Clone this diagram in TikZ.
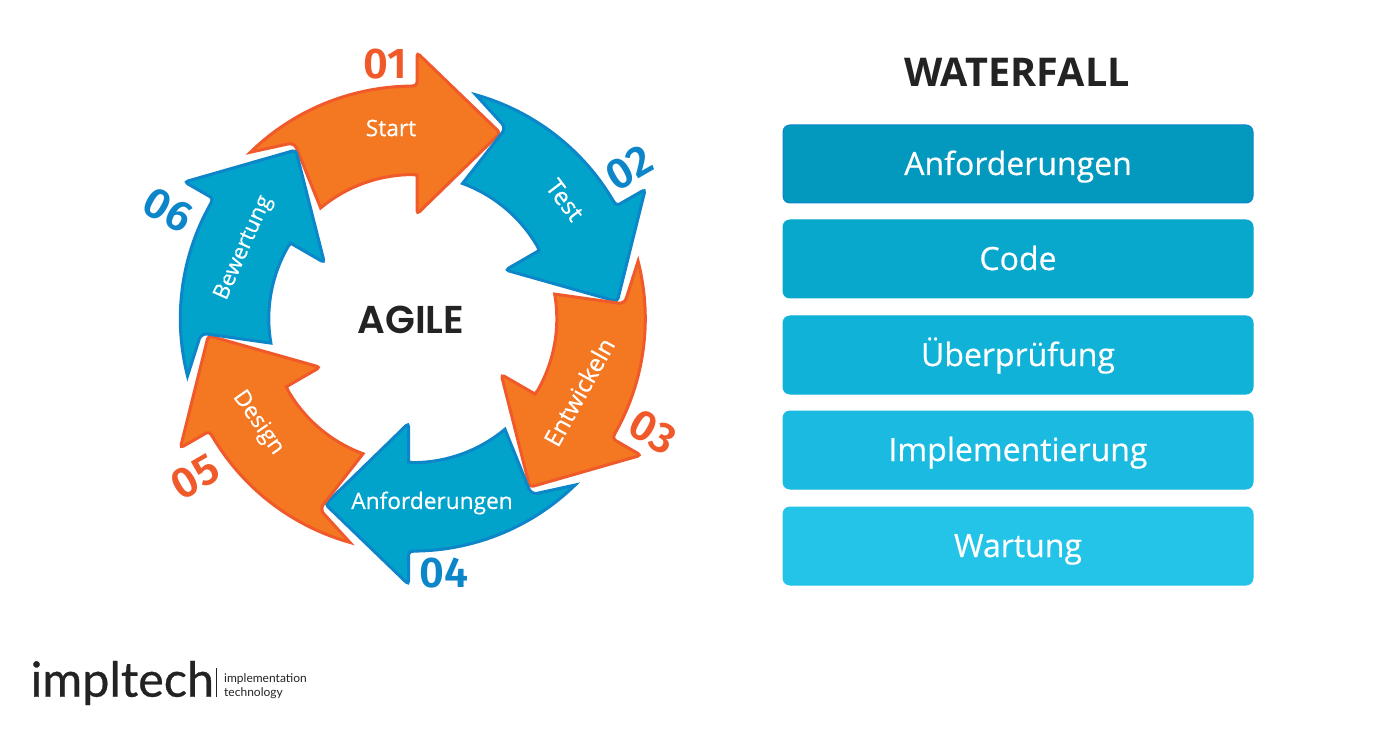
\documentclass[tikz,border=0pt]{standalone}
\usepackage{fontspec}
\setmainfont{Open Sans}
\newfontfamily\lblfont[FakeBold=0.5]{Open Sans}
\newfontfamily\numfont{Fira Sans SemiBold}
\newfontfamily\polyfont{Poppins SemiBold}
\newfontfamily\logofont[FakeBold=0.6]{Lato}
\newfontfamily\logosubfont{Lato}
\definecolor{orfill}{HTML}{F47722}
\definecolor{orline}{HTML}{F0592A}
\definecolor{blfill}{HTML}{01A3CB}
\definecolor{blline}{HTML}{0C85C9}
\definecolor{inkdark}{HTML}{232323}
\definecolor{boxa}{HTML}{0399BE}
\definecolor{boxb}{HTML}{08A8CC}
\definecolor{boxc}{HTML}{11B2D7}
\definecolor{boxd}{HTML}{1BBBE1}
\definecolor{boxe}{HTML}{24C4E9}
\tikzset{
  orarrow/.style={fill=orfill,draw=orline,line width=3pt,line join=miter,miter limit=10},
  blarrow/.style={fill=blfill,draw=blline,line width=3pt,line join=miter,miter limit=10},
  steplabel/.style={text=white,font=\lblfont\fontsize{22.7}{26}\selectfont,inner sep=0pt},
  numlabel/.style={font=\numfont\fontsize{43}{50}\selectfont,inner sep=0pt},
  wfbox/.style={rounded corners=7pt,minimum width=470pt,minimum height=78pt,inner sep=0pt,line width=1pt,text=white,font=\lblfont\fontsize{32}{36}\selectfont,text height=30pt,text depth=8pt},
}
\newcommand{\agilepath}{
  (134.3:232.5) arc[start angle=134.3,end angle=91,radius=232.5]
  .. controls (3,232.6) and (4.2,233.5) .. (4.2,236)
  [rounded corners=3.5pt] -- (4.2,266) -- (87.5,185.6) -- (4.2,104.5) -- (4.2,140)
  [sharp corners] .. controls (4.2,143) and (3,143.9) .. (0,144)
  arc[start angle=90,end angle=129.8,radius=144]
  [rounded corners=6pt] -- (-118.5,176) [sharp corners] -- cycle
}
\begin{document}
\begin{tikzpicture}[x=1pt,y=1pt]
\useasboundingbox (0,0) rectangle (1400,732);
\foreach \ang/\sty in {0/orarrow,-60/blarrow,-120/orarrow,-180/blarrow,-240/orarrow,-300/blarrow}{
  \begin{scope}[shift={(412.8,413.4)},rotate=\ang]
    \path[\sty] \agilepath;
  \end{scope}
}
\node[steplabel] (lstart) at (391,604) {Start};
\node[steplabel,font=\lblfont\fontsize{24}{26}\selectfont,rotate=-53] (ltest) at (565,532) {Test};
\node[steplabel,font=\lblfont\fontsize{24}{26}\selectfont,rotate=61] (lent) at (579,340) {Entwickeln};
\node[steplabel] (lanf) at (432,229) {Anforderungen};
\node[steplabel,rotate=-55] (ldes) at (258,309) {Design};
\node[steplabel,font=\lblfont\fontsize{22}{26}\selectfont,rotate=66] (lbew) at (244,484) {Bewertung};
\node[numlabel,text=orline] (n1) at (385,668) {01};
\node[numlabel,text=blline,rotate=30] (n2) at (629,564) {02};
\node[numlabel,text=orline,rotate=-30] (n3) at (653,300) {03};
\node[numlabel,text=blline] (n4) at (444,159) {04};
\node[numlabel,text=orline,rotate=30] (n5) at (195,255) {05};
\node[numlabel,text=blline,rotate=-30] (n6) at (168,522) {06};
\node[text=inkdark,font=\polyfont\fontsize{38.8}{44}\selectfont,inner sep=0pt] (agile) at (411,412) {AGILE};
\node[text=inkdark,font=\bfseries\fontsize{39.6}{44}\selectfont,inner sep=0pt] (wf) at (1017,660) {WATERFALL};
\node[wfbox,fill=boxa,draw=blline] (b1) at (1018,568) {Anforderungen};
\node[wfbox,fill=boxb,draw=boxb] (b2) at (1018,473) {Code};
\node[wfbox,fill=boxc,draw=boxc] (b3) at (1018,377) {Überprüfung};
\node[wfbox,fill=boxd,draw=boxd] (b4) at (1018,282) {Implementierung};
\node[wfbox,fill=boxe,draw=boxe] (b5) at (1018,186) {Wartung};
\node[anchor=west,text=inkdark,font=\logofont\fontsize{48.5}{56}\selectfont,inner sep=0pt] (logo) at (30.5,49) {impltech};
\node[anchor=west,text=inkdark,font=\logosubfont\fontsize{12}{14}\selectfont,inner sep=0pt,align=left] (logosub) at (224,46) {implementation\\technology};
\draw[inkdark,line width=0.8pt] (216,35) -- (216,64);
\end{tikzpicture}
\end{document}
